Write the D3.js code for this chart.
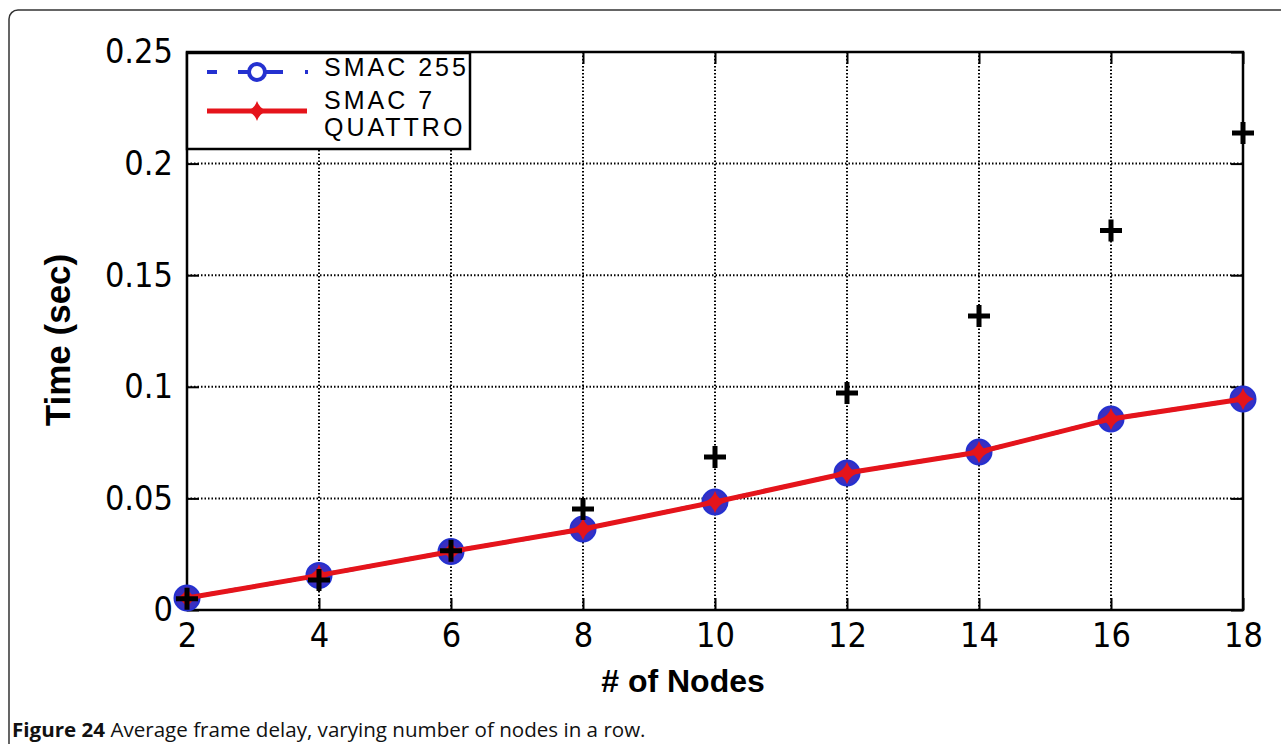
<!DOCTYPE html>
<html>
<head>
<meta charset="utf-8">
<script src="https://cdn.jsdelivr.net/npm/d3@7/dist/d3.min.js"></script>
<style>
  body { margin: 0; background: white; }
  svg { display: block; }
</style>
</head>
<body>
<script>
// values
const nodes = [2, 4, 6, 8, 10, 12, 14, 16, 18];
const smac255 = [0.0054, 0.0155, 0.0262, 0.0363, 0.0484, 0.0614, 0.0708, 0.0856, 0.0945];
const smac7 = [0.0054, 0.0155, 0.0262, 0.0363, 0.0484, 0.0614, 0.0708, 0.0856, 0.0945];
const quattro = [0.005, 0.0134, 0.0265, 0.0452, 0.0685, 0.0972, 0.1317, 0.170, 0.2137];
const yTicks = [0, 0.05, 0.1, 0.15, 0.2, 0.25];
const yTickLabels = ["0", "0.05", "0.1", "0.15", "0.2", "0.25"];
const seriesNames = ["SMAC 255", "SMAC 7", "QUATTRO"];

const W = 1281, H = 744;
const plotL = 187, plotR = 1243, plotT = 52, plotB = 610;
const blue = "#2431d0", red = "#e5141b";
const tickFont = "'DejaVu Sans Condensed', 'DejaVu Sans', sans-serif";

const svg = d3.select("body").append("svg").attr("width", W).attr("height", H);

// outer figure frame
svg.append("rect")
  .attr("x", 9).attr("y", 10).attr("width", W + 20).attr("height", H + 20)
  .attr("rx", 9).attr("fill", "none").attr("stroke", "#333").attr("stroke-width", 1.5);

let x = d3.scaleLinear().domain([2, 18]).range([plotL, plotR]);
let y = d3.scaleLinear().domain([0, 0.25]).range([plotB, plotT]);

// dotted grid
const grid = svg.append("g").attr("stroke", "#000").attr("stroke-width", 2).attr("stroke-dasharray", "1.5,2");
grid.selectAll("line.v").data(nodes.slice(1, -1)).enter().append("line")
  .attr("x1", d => x(d)).attr("x2", d => x(d)).attr("y1", plotT).attr("y2", plotB);
grid.selectAll("line.h").data(yTicks.slice(1, -1)).enter().append("line")
  .attr("y1", d => y(d)).attr("y2", d => y(d)).attr("x1", plotL).attr("x2", plotR);

// axes with inward ticks
const styleAxis = function(g, fontSize) {
  g.select(".domain").remove();
  g.selectAll(".tick line").attr("stroke", "#000").attr("stroke-width", 2);
  g.selectAll(".tick text").attr("fill", "#000")
    .style("font-family", tickFont).style("font-size", fontSize + "px");
};

svg.append("g").attr("transform", "translate(0," + plotB + ")")
  .call(d3.axisBottom(x).tickValues(nodes).tickSize(-12).tickPadding(13).tickFormat(d3.format("d")))
  .call(g => styleAxis(g, 34));
svg.append("g").attr("transform", "translate(" + plotL + ",0)")
  .call(d3.axisLeft(y).tickValues(yTicks).tickSize(-12).tickPadding(14).tickFormat((d, i) => yTickLabels[i]))
  .call(g => styleAxis(g, 34));
svg.append("g").attr("transform", "translate(0," + plotT + ")")
  .call(d3.axisTop(x).tickValues(nodes).tickSize(-12).tickFormat(""))
  .call(g => styleAxis(g, 34));
svg.append("g").attr("transform", "translate(" + plotR + ",0)")
  .call(d3.axisRight(y).tickValues(yTicks).tickSize(-12).tickFormat(""))
  .call(g => styleAxis(g, 34));

// plot box
svg.append("rect")
  .attr("x", plotL).attr("y", plotT).attr("width", plotR - plotL).attr("height", plotB - plotT)
  .attr("fill", "none").attr("stroke", "#000").attr("stroke-width", 2.5);

const line = d3.line().x(d => x(d[0])).y(d => y(d[1]));
const diamond = function(r) {
  return "M0," + (-r) + "Q" + (r * 0.25) + "," + (-r * 0.25) + " " + r + ",0" +
    "Q" + (r * 0.25) + "," + (r * 0.25) + " 0," + r +
    "Q" + (-r * 0.25) + "," + (r * 0.25) + " " + (-r) + ",0" +
    "Q" + (-r * 0.25) + "," + (-r * 0.25) + " 0," + (-r) + "Z";
};
const plus = function(r) {
  return "M" + (-r) + ",0H" + r + "M0," + (-r) + "V" + r;
};

// SMAC 255
const s255 = nodes.map((n, i) => [n, smac255[i]]);
svg.append("path").attr("d", line(s255)).attr("fill", "none")
  .attr("stroke", blue).attr("stroke-width", 4).attr("stroke-dasharray", "10,10");
svg.selectAll("circle.s255").data(s255).enter().append("circle")
  .attr("cx", d => x(d[0])).attr("cy", d => y(d[1])).attr("r", 12.5)
  .attr("fill", "#3a2fc0").attr("stroke", blue).attr("stroke-width", 2);

// SMAC 7
const s7 = nodes.map((n, i) => [n, smac7[i]]);
svg.append("path").attr("d", line(s7)).attr("fill", "none")
  .attr("stroke", red).attr("stroke-width", 5);
svg.selectAll("path.s7").data(s7).enter().append("path")
  .attr("transform", d => "translate(" + x(d[0]) + "," + y(d[1]) + ")")
  .attr("d", diamond(11)).attr("fill", red);

// QUATTRO
const q = nodes.map((n, i) => [n, quattro[i]]);
svg.selectAll("path.q").data(q).enter().append("path")
  .attr("transform", d => "translate(" + x(d[0]) + "," + y(d[1]) + ")")
  .attr("d", plus(11)).attr("fill", "none").attr("stroke", "#000").attr("stroke-width", 5);

// legend
const lg = svg.append("g");
svg.append("clipPath").attr("id", "lgclip").append("rect")
  .attr("x", plotL).attr("y", 53).attr("width", 283).attr("height", 96);
lg.append("rect").attr("x", plotL).attr("y", 53).attr("width", 283).attr("height", 96)
  .attr("fill", "white").attr("stroke", "none");
const lgText = lg.append("g").attr("clip-path", "url(#lgclip)");
[67, 100, 127].forEach(function(cy, i) {
  lgText.append("text").attr("x", 324).attr("y", cy).attr("dy", "0.36em")
    .style("font-family", "'Liberation Sans', Arial, sans-serif").style("font-size", "25px")
    .style("letter-spacing", "3px")
    .text(seriesNames[i]);
});
lg.append("line").attr("x1", 207).attr("x2", 308).attr("y1", 72).attr("y2", 72)
  .attr("stroke", blue).attr("stroke-width", 4).attr("stroke-dasharray", "10,21,45,22,3");
lg.append("circle").attr("cx", 257).attr("cy", 72).attr("r", 8)
  .attr("fill", "white").attr("stroke", blue).attr("stroke-width", 4);
lg.append("line").attr("x1", 207).attr("x2", 307).attr("y1", 111).attr("y2", 111)
  .attr("stroke", red).attr("stroke-width", 5);
lg.append("path").attr("transform", "translate(257,111)").attr("d", diamond(10)).attr("fill", red);
lg.append("rect").attr("x", plotL).attr("y", 53).attr("width", 283).attr("height", 96)
  .attr("fill", "none").attr("stroke", "#000").attr("stroke-width", 2.5);

// axis titles
svg.append("text").attr("x", 683).attr("y", 692).attr("text-anchor", "middle")
  .style("font-family", "'Liberation Sans', Arial, sans-serif").style("font-weight", "bold")
  .style("font-size", "32px").text("# of Nodes");
svg.append("text").attr("transform", "translate(70,340) rotate(-90)").attr("text-anchor", "middle")
  .style("font-family", "'Liberation Sans', Arial, sans-serif").style("font-weight", "bold")
  .style("font-size", "35px").text("Time (sec)");

// caption
const cap = svg.append("text").attr("x", 12).attr("y", 737)
  .style("font-family", "'Open Sans', 'Noto Sans', sans-serif").style("font-size", "20px").attr("fill", "#111");
cap.append("tspan").style("font-weight", "bold").text("Figure 24");
cap.append("tspan").text(" Average frame delay, varying number of nodes in a row.");
const capW = cap.node().getComputedTextLength();
if (capW > 0) {
  cap.attr("transform", "translate(12,0) scale(" + (634 / capW) + ",1) translate(-12,0)");
}
</script>
</body>
</html>
